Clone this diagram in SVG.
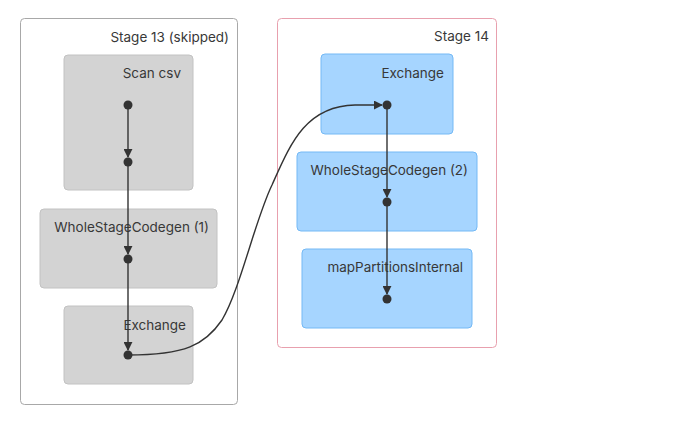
<svg xmlns="http://www.w3.org/2000/svg" width="685" height="434" viewBox="0 0 685 434">
  <style>
    text { font-family: "Inter", "Liberation Sans", sans-serif; font-size: 13.5px; fill: #383838; text-anchor: end; }
    .cluster { fill: #fff; stroke-width: 1; }
    .skipped { stroke: #a8a8a8; }
    .active { stroke: #e8a0ae; }
    .node-skip { fill: #d3d3d3; stroke: #c2c2c2; stroke-width: 1; }
    .node-run { fill: #a6d5ff; stroke: #74b9f5; stroke-width: 1; }
    .edge { fill: none; stroke: #333; stroke-width: 1.4; }
    .dot { fill: #333; }
  </style>
  <defs>
    <marker id="arrow" viewBox="0 0 10 10" refX="9" refY="5" markerWidth="9" markerHeight="9" markerUnits="userSpaceOnUse" orient="auto">
      <path d="M0,0 L10,5 L0,10 z" fill="#333"/>
    </marker>
  </defs>

  <!-- stage clusters -->
  <g id="stage-13">
    <rect class="cluster skipped" x="20.5" y="18.5" width="217" height="386" rx="4"/>
    <text x="229" y="42">Stage 13 (skipped)</text>
  </g>
  <g id="stage-14">
    <rect class="cluster active" x="277.5" y="18.5" width="219" height="329" rx="4"/>
    <text x="489" y="41">Stage 14</text>
  </g>

  <!-- operator nodes -->
  <g id="scan-csv">
    <rect class="node-skip" x="64" y="55" width="129" height="135" rx="4"/>
    <text x="181" y="78">Scan csv</text>
  </g>
  <g id="wscg-1">
    <rect class="node-skip" x="40" y="209" width="177" height="79" rx="4"/>
    <text x="209" y="232">WholeStageCodegen (1)</text>
  </g>
  <g id="exchange-13">
    <rect class="node-skip" x="64" y="306" width="129" height="78" rx="4"/>
    <text x="186" y="330">Exchange</text>
  </g>
  <g id="exchange-14">
    <rect class="node-run" x="321" y="54" width="132" height="80" rx="4"/>
    <text x="444" y="78">Exchange</text>
  </g>
  <g id="wscg-2">
    <rect class="node-run" x="297" y="152" width="180" height="79" rx="4"/>
    <text x="468" y="175">WholeStageCodegen (2)</text>
  </g>
  <g id="map-partitions">
    <rect class="node-run" x="302" y="249" width="170" height="79" rx="4"/>
    <text x="463" y="272">mapPartitionsInternal</text>
  </g>

  <!-- edges -->
  <g id="edges">
    <path class="edge" marker-end="url(#arrow)" d="M128,105 L128,157"/>
    <path class="edge" marker-end="url(#arrow)" d="M128,162 L128,254"/>
    <path class="edge" marker-end="url(#arrow)" d="M128,259 L128,350"/>
    <path class="edge" marker-end="url(#arrow)" d="M128,355 C185,355 205,345 222,320 C240,290 255,220 272,185 C290,145 305,106 355,105 L382,105"/>
    <path class="edge" marker-end="url(#arrow)" d="M387,105 L387,197"/>
    <path class="edge" marker-end="url(#arrow)" d="M387,202 L387,294"/>
  </g>

  <!-- anchor dots -->
  <g id="dots">
    <circle class="dot" cx="128" cy="105" r="4.5"/>
    <circle class="dot" cx="128" cy="162" r="4.5"/>
    <circle class="dot" cx="128" cy="259" r="4.5"/>
    <circle class="dot" cx="128" cy="355" r="4.5"/>
    <circle class="dot" cx="387" cy="105" r="4.5"/>
    <circle class="dot" cx="387" cy="202" r="4.5"/>
    <circle class="dot" cx="387" cy="299" r="4.5"/>
  </g>
</svg>
